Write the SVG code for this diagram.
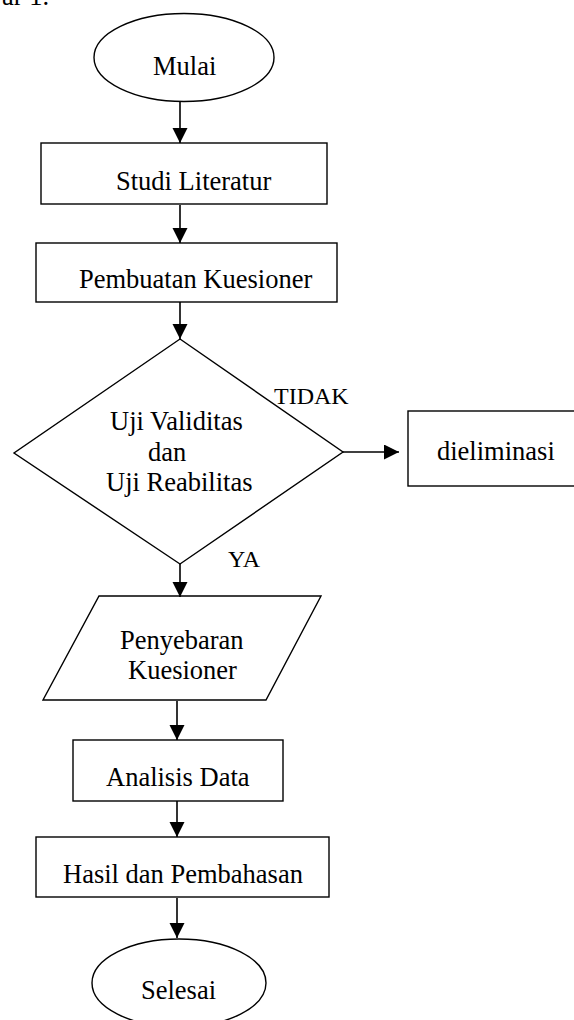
<svg xmlns="http://www.w3.org/2000/svg" width="574" height="1020" viewBox="0 0 574 1020">
  <style>
    .shape { fill: #ffffff; stroke: #000000; stroke-width: 1.4; }
    .lbl { font-family: "Liberation Serif", "Times New Roman", serif; font-size: 26.5px; fill: #000000; }
    .small { font-family: "Liberation Serif", "Times New Roman", serif; font-size: 24px; fill: #000000; }
    .conn { stroke: #000000; stroke-width: 1.6; fill: none; marker-end: url(#arrow); }
  </style>
  <defs>
    <marker id="arrow" markerUnits="userSpaceOnUse" markerWidth="16" markerHeight="16" refX="15" refY="7.5" orient="auto">
      <path d="M0,0 L15,7.5 L0,15 z" fill="#000000"/>
    </marker>
  </defs>
  <rect width="574" height="1020" fill="#ffffff"/>

  <text class="lbl" x="2" y="5">ar 1.</text>

  <g id="mulai">
    <ellipse class="shape" cx="184" cy="57.5" rx="90" ry="44"/>
    <text class="lbl" x="153" y="75">Mulai</text>
  </g>

  <g id="studi-literatur">
    <rect class="shape" x="41" y="143" width="286" height="61"/>
    <text class="lbl" x="116" y="190">Studi Literatur</text>
  </g>

  <g id="pembuatan-kuesioner">
    <rect class="shape" x="36" y="243" width="301" height="59"/>
    <text class="lbl" x="79" y="288">Pembuatan Kuesioner</text>
  </g>

  <g id="uji">
    <polygon class="shape" points="180,339 343,452 180,564 14,453"/>
    <text class="lbl" x="110" y="430">Uji Validitas</text>
    <text class="lbl" x="148" y="461">dan</text>
    <text class="lbl" x="106" y="491">Uji Reabilitas</text>
  </g>

  <g id="dieliminasi">
    <rect class="shape" x="408" y="411" width="180" height="75"/>
    <text class="lbl" x="437" y="460">dieliminasi</text>
  </g>

  <g id="penyebaran-kuesioner">
    <polygon class="shape" points="99,596 321,596 266,700 43,700"/>
    <text class="lbl" x="120" y="649">Penyebaran</text>
    <text class="lbl" x="128" y="679">Kuesioner</text>
  </g>

  <g id="analisis-data">
    <rect class="shape" x="73" y="740" width="210" height="61"/>
    <text class="lbl" x="106" y="786">Analisis Data</text>
  </g>

  <g id="hasil-pembahasan">
    <rect class="shape" x="36" y="837" width="293" height="60"/>
    <text class="lbl" x="63" y="883">Hasil dan Pembahasan</text>
  </g>

  <g id="selesai">
    <ellipse class="shape" cx="179" cy="983" rx="87" ry="44"/>
    <text class="lbl" x="141" y="999">Selesai</text>
  </g>

  <g id="connectors">
    <line class="conn" x1="180" y1="102" x2="180" y2="143"/>
    <line class="conn" x1="180" y1="205" x2="180" y2="243"/>
    <line class="conn" x1="180" y1="302" x2="180" y2="339"/>
    <line class="conn" x1="343" y1="452" x2="399" y2="452"/>
    <line class="conn" x1="180" y1="564" x2="180" y2="597"/>
    <line class="conn" x1="177" y1="701" x2="177" y2="740"/>
    <line class="conn" x1="177" y1="801" x2="177" y2="837"/>
    <line class="conn" x1="177" y1="898" x2="177" y2="938"/>
    <text class="small" x="274" y="404">TIDAK</text>
    <text class="small" x="228" y="567">YA</text>
  </g>
</svg>
